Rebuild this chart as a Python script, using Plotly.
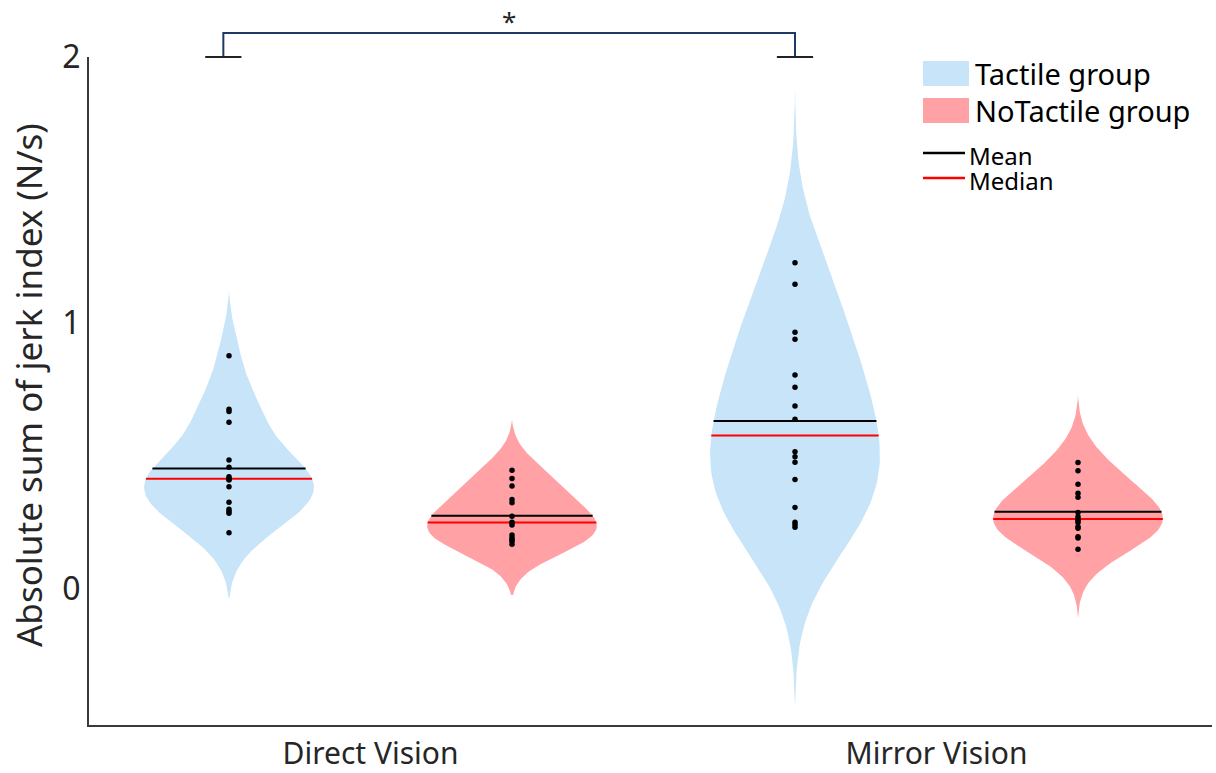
import numpy as np
import plotly.graph_objects as go

# ---- data -------------------------------------------------------------
conditions = ["Direct Vision", "Mirror Vision"]
group_names = ["Tactile group", "NoTactile group"]

direct_tactile = [0.877, 0.676, 0.667, 0.627, 0.485, 0.458, 0.422, 0.416,
                  0.413, 0.410, 0.385, 0.326, 0.300, 0.292, 0.285, 0.212]
direct_notactile = [0.447, 0.416, 0.387, 0.337, 0.324, 0.274, 0.251, 0.249,
                    0.241, 0.203, 0.193, 0.185, 0.180, 0.168]
mirror_tactile = [1.227, 1.146, 0.965, 0.939, 0.805, 0.759, 0.688, 0.638,
                  0.516, 0.497, 0.477, 0.412, 0.307, 0.251, 0.242, 0.232]
mirror_notactile = [0.476, 0.445, 0.394, 0.360, 0.345, 0.288, 0.272, 0.263,
                    0.258, 0.250, 0.234, 0.229, 0.197, 0.192, 0.150]

# kernel bandwidth of each violin's density estimate, and how far the
# estimate is evaluated beyond the smallest / largest observation
bandwidths = [0.112, 0.080, 0.225, 0.100]
tail_extents = [0.245, 0.19, 0.66, 0.255]

# significance bracket: compared violins and the level of its feet
sig_pair = (0, 2)
sig_level = 2.0
sig_label = "*"

# ---- layout constants -------------------------------------------------
W, H = 1216, 773
M_L, M_R, M_T, M_B = 89, 4, 57, 48
X_RANGE = [-0.4947, 3.4735]
Y_RANGE = [-0.511, 2.0]
HALF_WIDTH = 0.3

FONT = "Noto Sans"
BLUE = "#C8E4F8"
PINK = "#FFA1A5"
AXIS_COLOR = "#3a3a3a"
TEXT_COLOR = "#262626"

samples = [direct_tactile, direct_notactile, mirror_tactile, mirror_notactile]
positions = [0, 1, 2, 3]
colors = [BLUE, PINK, BLUE, PINK]


def kde(values, bw, ext, n=120):
    d = np.asarray(values, dtype=float)
    grid = np.linspace(d.min() - ext, d.max() + ext, n)
    dens = np.exp(-0.5 * ((grid[:, None] - d[None, :]) / bw) ** 2).sum(axis=1)
    dens = dens - dens.min()
    return grid, dens / dens.max() * HALF_WIDTH


fig = go.Figure()

estimates = [kde(v, bw, ext) for v, bw, ext in zip(samples, bandwidths, tail_extents)]

# violin bodies
for (grid, half), pos, col in zip(estimates, positions, colors):
    fig.add_trace(go.Scatter(
        x=np.concatenate([pos + half, (pos - half)[::-1]]),
        y=np.concatenate([grid, grid[::-1]]),
        mode="lines", fill="toself", fillcolor=col,
        line=dict(width=0, color=col), hoverinfo="skip", showlegend=False))

# mean (black) and median (red) lines spanning the violin at that level
for vals, (grid, half), pos in zip(samples, estimates, positions):
    for stat, col in ((np.mean(vals), "black"), (np.median(vals), "#ff0000")):
        w = np.interp(stat, grid, half)
        fig.add_trace(go.Scatter(
            x=[pos - w, pos + w], y=[stat, stat], mode="lines",
            line=dict(color=col, width=2), hoverinfo="skip", showlegend=False))

# individual observations
for vals, pos in zip(samples, positions):
    fig.add_trace(go.Scatter(
        x=[pos] * len(vals), y=vals, mode="markers",
        marker=dict(color="black", size=5.5), hoverinfo="skip", showlegend=False))

plot_w = W - M_L - M_R
plot_h = H - M_T - M_B


def xp(v):
    return (v - X_RANGE[0]) / (X_RANGE[1] - X_RANGE[0])


def yp(v):
    return (v - Y_RANGE[0]) / (Y_RANGE[1] - Y_RANGE[0])


def px_x(p):
    return (p - M_L) / plot_w


def px_y(p):
    return (H - M_B - p) / plot_h


shapes = []
annotations = []

# significance bracket
a, b = sig_pair
foot = 0.064
top = sig_level + 0.09
xa, xb = a - 0.02, b
shapes.append(dict(type="path", xref="paper", yref="paper",
                   path=f"M {xp(xa)} {yp(sig_level)} L {xp(xa)} {yp(top)} "
                        f"L {xp(xb)} {yp(top)} L {xp(xb)} {yp(sig_level)}",
                   line=dict(color="#203864", width=2)))
for c in (xa, xb):
    shapes.append(dict(type="line", xref="paper", yref="paper",
                       x0=xp(c - foot), x1=xp(c + foot),
                       y0=yp(sig_level), y1=yp(sig_level),
                       line=dict(color="#222222", width=2)))
annotations.append(dict(xref="paper", yref="paper", x=xp((xa + xb) / 2), y=yp(top),
                        text=sig_label, showarrow=False, yanchor="bottom",
                        yshift=-8, font=dict(family=FONT, size=26, color=TEXT_COLOR)))

# legend: colour patches and line keys
for (y0, y1), col, name in zip([(61, 86), (98, 123)], [BLUE, PINK], group_names):
    shapes.append(dict(type="rect", xref="paper", yref="paper",
                       x0=px_x(923), x1=px_x(969), y0=px_y(y1), y1=px_y(y0),
                       fillcolor=col, line=dict(width=0)))
    annotations.append(dict(xref="paper", yref="paper", x=px_x(973),
                            y=px_y((y0 + y1) / 2), text=name, showarrow=False,
                            xanchor="left", yanchor="middle",
                            font=dict(family=FONT, size=29, color="black")))
for ly, col, name in zip([153, 178], ["black", "#ff0000"], ["Mean", "Median"]):
    shapes.append(dict(type="line", xref="paper", yref="paper",
                       x0=px_x(923), x1=px_x(965), y0=px_y(ly), y1=px_y(ly),
                       line=dict(color=col, width=2.5)))
    annotations.append(dict(xref="paper", yref="paper", x=px_x(967),
                            y=px_y(ly + 2), text=name, showarrow=False,
                            xanchor="left", yanchor="middle",
                            font=dict(family=FONT, size=24, color="black")))

# y-axis title
annotations.append(dict(xref="paper", yref="paper", x=px_x(28), y=px_y(385),
                        text="Absolute sum of jerk index (N/s)", textangle=-90,
                        showarrow=False, xanchor="center", yanchor="middle",
                        font=dict(family=FONT, size=35, color=TEXT_COLOR)))

fig.update_layout(
    width=W, height=H,
    margin=dict(l=M_L, r=M_R, t=M_T, b=M_B, autoexpand=False),
    paper_bgcolor="white", plot_bgcolor="white",
    showlegend=False,
    shapes=shapes, annotations=annotations,
    xaxis=dict(range=X_RANGE, tickvals=[0.5, 2.5], ticktext=conditions,
               automargin=False,
               showgrid=False, zeroline=False, showline=True,
               linecolor=AXIS_COLOR, linewidth=2, ticks="", ticklen=0,
               ticklabelstandoff=1,
               tickfont=dict(family=FONT, size=30, color=TEXT_COLOR)),
    yaxis=dict(range=Y_RANGE, tickvals=[0, 1, 2], ticktext=["0", "1", "2"],
               automargin=False,
               showgrid=False, zeroline=False, showline=True,
               linecolor=AXIS_COLOR, linewidth=2, ticks="",
               tickfont=dict(family=FONT, size=32, color=TEXT_COLOR)),
)

fig.write_html("out.html")
